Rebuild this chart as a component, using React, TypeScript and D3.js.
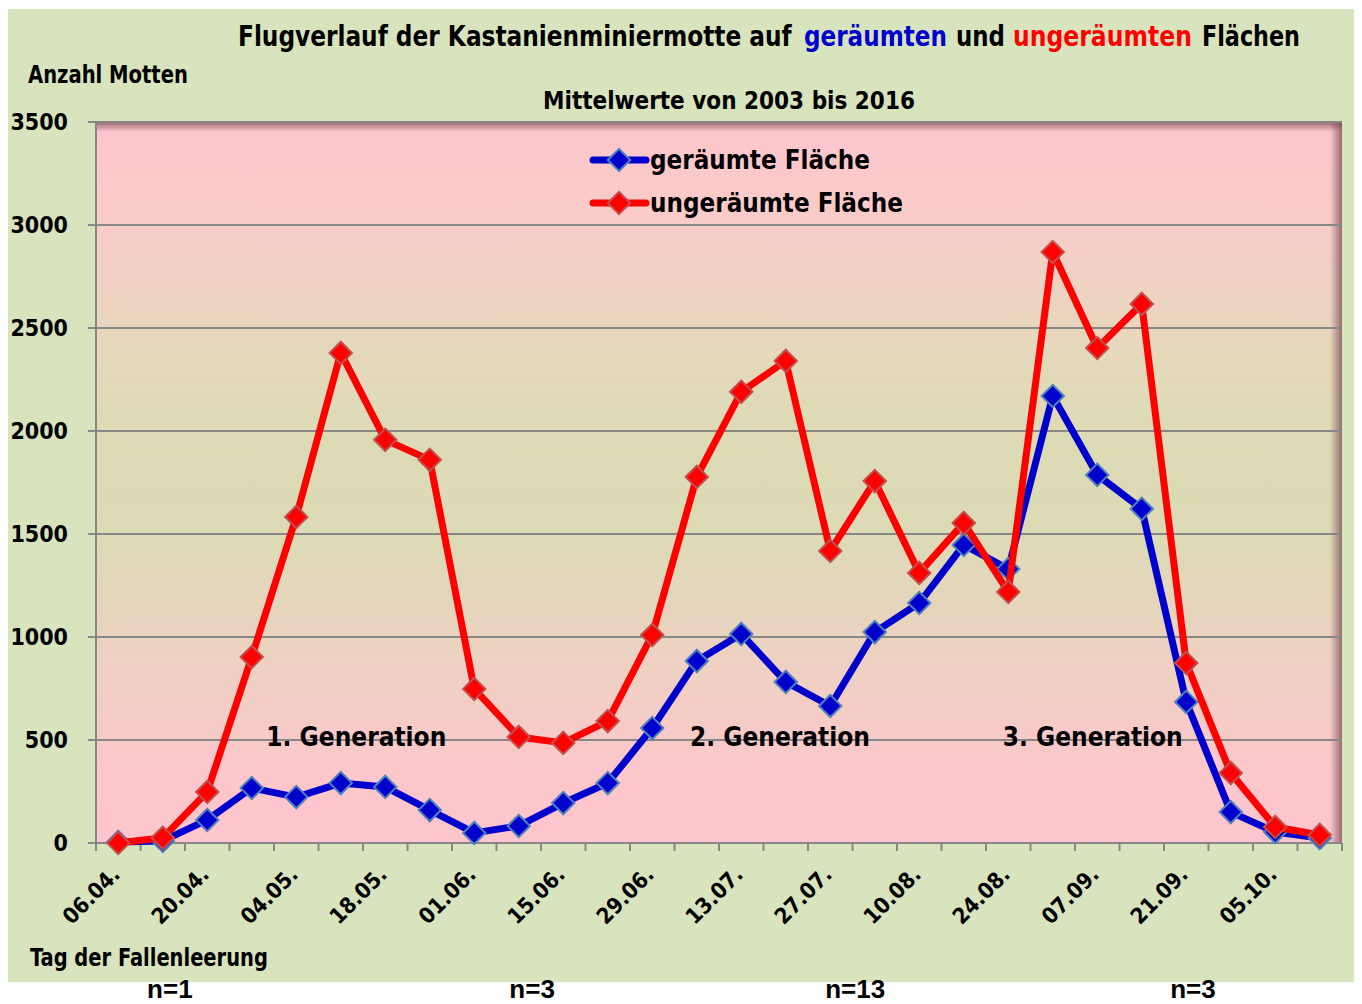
import React, { useLayoutEffect, useRef, useState } from 'react';
import * as d3 from 'd3';

// Tag der Fallenleerung (wöchentlich)
const dates = [
  '06.04.', '13.04.', '20.04.', '27.04.', '04.05.', '11.05.', '18.05.', '25.05.',
  '01.06.', '08.06.', '15.06.', '22.06.', '29.06.', '06.07.', '13.07.', '20.07.',
  '27.07.', '03.08.', '10.08.', '17.08.', '24.08.', '31.08.', '07.09.', '14.09.',
  '21.09.', '28.09.', '05.10.', '12.10.',
];

// Mittelwerte 2003-2016
const geraeumt = [
  5, 10, 112, 267, 223, 291, 272, 160, 49, 83, 194, 291, 558, 884,
  1015, 782, 665, 1024, 1165, 1447, 1330, 2170, 1787, 1622, 685, 150, 53, 24,
];
const ungeraeumt = [
  0, 25, 248, 903, 1583, 2379, 1957, 1860, 748, 515, 486, 592, 1010, 1777,
  2190, 2340, 1418, 1757, 1311, 1554, 1219, 2869, 2403, 2617, 874, 340, 78, 39,
];

// annotation positions in weeks from the start of the axis
const generations = [
  { label: '1. Generation', week: 5.85 },
  { label: '2. Generation', week: 15.37 },
  { label: '3. Generation', week: 22.4 },
];

const nLabels = [
  { label: 'n=1', week: 1.66 },
  { label: 'n=3', week: 9.8 },
  { label: 'n=13', week: 17.06 },
  { label: 'n=3', week: 24.65 },
];

const titleParts = [
  { text: 'Flugverlauf der Kastanienminiermotte auf', x: 238, w: 554, color: '#000' },
  { text: 'geräumten', x: 804, w: 143, color: '#0000cc' },
  { text: 'und', x: 956, w: 49, color: '#000' },
  { text: 'ungeräumten', x: 1013, w: 179, color: '#ff0000' },
  { text: 'Flächen', x: 1202, w: 98, color: '#000' },
];

const FONT = "'Liberation Sans Narrow', 'DejaVu Sans Condensed', 'Open Sans', sans-serif";
const BLUE = '#0000cc';
const RED = '#ff0000';

// bold text squeezed horizontally to a given width (the original uses a narrow font)
function FitText({ x, y, width, size, fill = '#000', anchor = 'start', children }: any) {
  const ref = useRef<SVGTextElement>(null);
  const [sx, setSx] = useState(1);
  useLayoutEffect(() => {
    if (!ref.current) return;
    const w = ref.current.getComputedTextLength();
    if (w > 0) setSx(width / w);
  }, [width, children]);
  return (
    <text ref={ref} transform={`translate(${x},${y}) scale(${sx},1)`} textAnchor={anchor}
      fontFamily={FONT} fontWeight="bold" fontSize={size} fill={fill}>{children}</text>
  );
}

export default function App() {
  const width = 1362;
  const height = 1004;
  const left = 96, right = 1342, top = 122, bottom = 843;

  const x = d3.scaleBand<string>().domain(dates).range([left, right]).padding(0);
  const weekX = d3.scaleLinear().domain([0, dates.length]).range([left, right]);
  const y = d3.scaleLinear().domain([0, 3500]).range([bottom, top]);
  const cx = (d: string) => (x(d) ?? 0) + x.bandwidth() / 2;

  const line = d3.line<number>()
    .x((_, i) => cx(dates[i]))
    .y(v => y(v));

  const diamond = d3.symbol().type(d3.symbolSquare).size(250)();

  const series = [
    { name: 'geräumte Fläche', values: geraeumt, color: BLUE, stroke: '#4f81bd' },
    { name: 'ungeräumte Fläche', values: ungeraeumt, color: RED, stroke: '#c0504d' },
  ];

  const boundaries = [...dates.map(d => x(d) ?? 0), right];

  return (
    <svg width={width} height={height} style={{ position: 'absolute', left: 0, top: 0 }}>
      <defs>
        <linearGradient id="plotBg" x1="0" y1="0" x2="0" y2="1">
          <stop offset="0" stopColor="#ffc5cd" />
          <stop offset="0.15" stopColor="#f8cdc8" />
          <stop offset="0.32" stopColor="#e5d8bb" />
          <stop offset="0.45" stopColor="#dcdbb4" />
          <stop offset="0.58" stopColor="#dddab6" />
          <stop offset="0.75" stopColor="#eed1c2" />
          <stop offset="0.9" stopColor="#fcc7cb" />
          <stop offset="1" stopColor="#ffc5cd" />
        </linearGradient>
        <linearGradient id="shadowTop" x1="0" y1="0" x2="0" y2="1">
          <stop offset="0" stopColor="#7a4a55" stopOpacity="0.75" />
          <stop offset="1" stopColor="#7a4a55" stopOpacity="0" />
        </linearGradient>
        <linearGradient id="shadowRight" x1="0" y1="0" x2="1" y2="0">
          <stop offset="0" stopColor="#7a4a55" stopOpacity="0" />
          <stop offset="1" stopColor="#7a4a55" stopOpacity="0.75" />
        </linearGradient>
      </defs>

      <rect x={8} y={9} width={1346} height={973} fill="#d8e4bd" />

      {/* plot area */}
      <rect x={left} y={top} width={right - left} height={bottom - top} fill="url(#plotBg)" />
      <rect x={left} y={top} width={right - left} height={10} fill="url(#shadowTop)" />
      <rect x={right - 12} y={top} width={12} height={bottom - top} fill="url(#shadowRight)" />

      {/* grid + y axis */}
      {y.ticks(7).map(t => (
        <g key={t}>
          <line x1={left - 8} x2={right} y1={y(t)} y2={y(t)} stroke="#878787" strokeWidth={2} />
          <text x={68} y={y(t) + 8} textAnchor="end" fontFamily={FONT} fontWeight="bold"
            fontSize={23} fill="#000">{t}</text>
        </g>
      ))}
      <line x1={left} x2={left} y1={top} y2={bottom} stroke="#878787" strokeWidth={2} />

      {/* x axis ticks + labels */}
      {boundaries.map((bx, i) => (
        <line key={i} x1={bx} x2={bx} y1={bottom} y2={bottom + 8} stroke="#878787" strokeWidth={2} />
      ))}
      {dates.filter((_, i) => i % 2 === 0).map(d => (
        <text key={d} transform={`translate(${cx(d) + 3},${bottom + 33}) rotate(-45)`}
          textAnchor="end" fontFamily={FONT} fontWeight="bold" fontSize={22} fill="#000">{d}</text>
      ))}

      {/* lines */}
      {series.map(s => (
        <g key={s.name}>
          <path d={line(s.values) ?? ''} fill="none" stroke={s.color} strokeWidth={7}
            strokeLinejoin="round" />
          {s.values.map((v, i) => (
            <path key={i} d={diamond ?? ''}
              transform={`translate(${cx(dates[i])},${y(v)}) rotate(45)`}
              fill={s.color} stroke={s.stroke} strokeWidth={2} />
          ))}
        </g>
      ))}

      {/* legend */}
      {series.map((s, i) => {
        const ly = 160 + i * 43;
        return (
          <g key={s.name}>
            <line x1={593} x2={646} y1={ly} y2={ly} stroke={s.color} strokeWidth={7} strokeLinecap="round" />
            <path d={diamond ?? ''} transform={`translate(619,${ly}) rotate(45)`} fill={s.color}
              stroke={s.stroke} strokeWidth={2} />
            <FitText x={650} y={ly + 9} size={27} width={i === 0 ? 220 : 253}>{s.name}</FitText>
          </g>
        );
      })}

      {/* generation labels */}
      {generations.map(g => (
        <FitText key={g.label} x={weekX(g.week)} y={746} size={27} width={180} anchor="middle">
          {g.label}
        </FitText>
      ))}

      {/* titles */}
      {titleParts.map(p => (
        <FitText key={p.text} x={p.x} y={46} size={28} width={p.w} fill={p.color}>{p.text}</FitText>
      ))}
      <FitText x={543} y={109} size={25} width={372}>Mittelwerte von 2003 bis 2016</FitText>
      <FitText x={28} y={83} size={24} width={160}>Anzahl Motten</FitText>
      <FitText x={30} y={966} size={25} width={238}>Tag der Fallenleerung</FitText>

      {/* n labels */}
      {nLabels.map((n, i) => (
        <text key={i} x={weekX(n.week)} y={998} textAnchor="middle"
          fontFamily="'Liberation Sans', Arial, sans-serif" fontWeight="bold" fontSize={26}>{n.label}</text>
      ))}
    </svg>
  );
}
